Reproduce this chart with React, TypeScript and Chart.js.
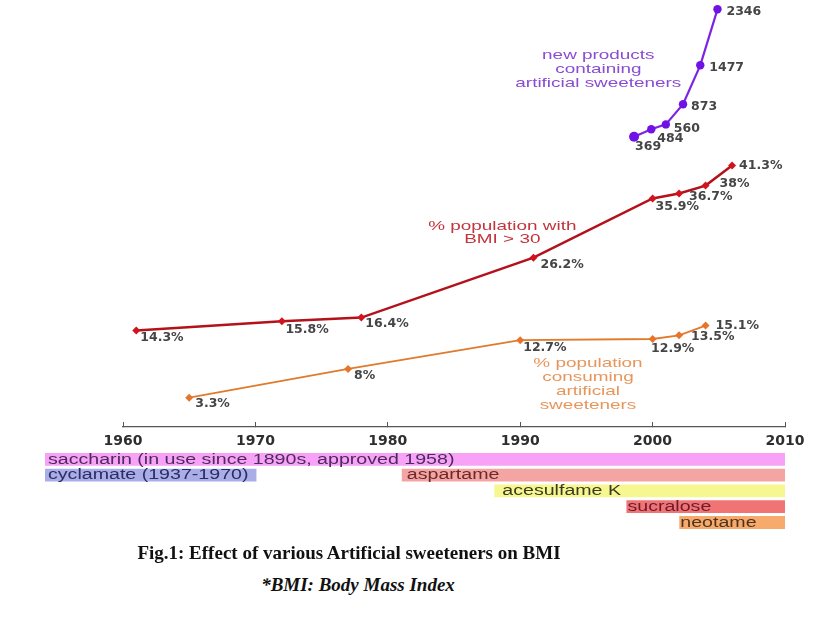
import React, { useEffect, useRef } from "react";
import { Chart, registerables } from "chart.js";

Chart.register(...registerables);

// ---------- data ----------
const xTicks = [1960, 1970, 1980, 1990, 2000, 2010];

const bmiYears = [1961, 1972, 1978, 1991, 2000, 2002, 2004, 2006];
const bmiValues = [14.3, 15.8, 16.4, 26.2, 35.9, 36.7, 38, 41.3];

const consumeYears = [1965, 1977, 1990, 2000, 2002, 2004];
const consumeValues = [3.3, 8, 12.7, 12.9, 13.5, 15.1];

const productYears = [1998.6, 1999.9, 2001, 2002.3, 2003.6, 2004.9];
const productValues = [369, 484, 560, 873, 1477, 2346];

const sweetenerNames = [
  "saccharin (in use since 1890s, approved 1958)",
  "cyclamate (1937-1970)",
  "aspartame",
  "acesulfame K",
  "sucralose",
  "neotame",
];
const sweetenerStart = [1890, 1937, 1981, 1988, 1998, 2002];
const sweetenerEnd = [2010, 1970, 2010, 2010, 2010, 2010];
const sweetenerRow = [0, 1, 1, 2, 3, 4];
const rowLabels = ["saccharin", "cyclamate / aspartame", "acesulfame K", "sucralose", "neotame"];

const bmiTitle = ["% population with", "BMI > 30"];
const consumeTitle = ["% population", "consuming", "artificial", "sweeteners"];
const productTitle = ["new products", "containing", "artificial sweeteners"];

// ---------- styling / placement ----------
const SX = 1.4; // horizontal stretch of the sans text in the reference
const bmiLabelOffsets = [[4, 7], [3.5, 8.5], [4, 6], [7, 7], [3, 8], [10, 3.5], [14, -1.4], [7, 0]];
const consumeLabelOffsets = [[6, 6], [6, 6.4], [3, 7.7], [-1.6, 9.3], [12, 1.7], [10, 0]];
const productLabelOffsets = [[1, 10], [6, 9], [8, 4], [8, 3], [9, 2], [9, 2]];

const annotations = [
  { lines: productTitle, x: 1995.9, y: 1420, axis: "y2", color: "#8a4cd2", spacing: 13.8 },
  { lines: bmiTitle, x: 1988.65, y: 30.25, axis: "y", color: "#c3343d", spacing: 12.8 },
  { lines: consumeTitle, x: 1995.12, y: 5.42, axis: "y", color: "#e8955a", spacing: 14 },
];

const barColors = ["#f7a2f6", "#a9aee9", "#f4a4a3", "#f7f792", "#f07474", "#f6aa6c"];
const barTextColors = ["#4e2a5e", "#2c2c60", "#6a2a2a", "#3a3a22", "#6a1a30", "#4e3320"];
const barTextInset = [3, 3, 5, 8, 1, 1];

const pointLabelPlugin = {
  id: "pointLabels",
  afterDatasetsDraw(chart: any) {
    const ctx = chart.ctx;
    ctx.save();
    ctx.font = 'bold 12.5px "DejaVu Sans"';
    ctx.textAlign = "left";
    ctx.textBaseline = "middle";
    ctx.fillStyle = "#454545";
    chart.data.datasets.forEach((ds: any, i: number) => {
      const meta = chart.getDatasetMeta(i);
      meta.data.forEach((el: any, j: number) => {
        const [dx, dy] = ds.labelOffsets[j];
        const v = ds.data[j].y;
        ctx.fillText(`${v}${ds.unit}`, el.x + dx, el.y + dy);
      });
    });
    ctx.font = '13.5px "Liberation Sans"';
    ctx.textAlign = "center";
    annotations.forEach((a) => {
      const cx = chart.scales.x.getPixelForValue(a.x);
      const cy = chart.scales[a.axis].getPixelForValue(a.y);
      ctx.fillStyle = a.color;
      const n = a.lines.length;
      a.lines.forEach((line, k) => {
        const y = cy + (k - (n - 1) / 2) * a.spacing;
        ctx.save();
        ctx.translate(cx, y);
        ctx.scale(SX, 1);
        ctx.fillText(line, 0, 0);
        ctx.restore();
      });
    });
    ctx.restore();
  },
};

const barLabelPlugin = {
  id: "barLabels",
  afterDatasetsDraw(chart: any) {
    const ctx = chart.ctx;
    const area = chart.chartArea;
    ctx.save();
    ctx.font = '14px "Liberation Sans"';
    ctx.textAlign = "left";
    ctx.textBaseline = "middle";
    chart.data.datasets.forEach((ds: any, i: number) => {
      const el = chart.getDatasetMeta(i).data[0];
      if (!el) return;
      const left = Math.max(Math.min(el.x, el.base), area.left);
      ctx.fillStyle = barTextColors[i];
      ctx.save();
      ctx.translate(left + barTextInset[i], el.y + 0.5);
      ctx.scale(SX, 1);
      ctx.fillText(ds.label, 0, 0);
      ctx.restore();
    });
    ctx.restore();
  },
};

export default function App() {
  const lineRef = useRef<HTMLCanvasElement | null>(null);
  const barRef = useRef<HTMLCanvasElement | null>(null);

  useEffect(() => {
    const lineChart = new Chart(lineRef.current as HTMLCanvasElement, {
      type: "line",
      data: {
        datasets: [
          {
            label: "% population with BMI > 30",
            data: bmiYears.map((x, i) => ({ x, y: bmiValues[i] })),
            yAxisID: "y",
            borderColor: "#b3111b",
            backgroundColor: "#d2121c",
            borderWidth: 2.5,
            pointStyle: "rectRot",
            pointRadius: 4,
            pointBackgroundColor: "#d2121c",
            pointBorderWidth: 0,
            clip: false,
            unit: "%",
            labelOffsets: bmiLabelOffsets,
          } as any,
          {
            label: "% population consuming artificial sweeteners",
            data: consumeYears.map((x, i) => ({ x, y: consumeValues[i] })),
            yAxisID: "y",
            borderColor: "#e07a2c",
            backgroundColor: "#e8742a",
            borderWidth: 1.8,
            pointStyle: "rectRot",
            pointRadius: 4,
            pointBackgroundColor: "#e8742a",
            pointBorderWidth: 0,
            clip: false,
            unit: "%",
            labelOffsets: consumeLabelOffsets,
          } as any,
          {
            label: "new products containing artificial sweeteners",
            data: productYears.map((x, i) => ({ x, y: productValues[i] })),
            yAxisID: "y2",
            borderColor: "#7c24e2",
            backgroundColor: "#7012e6",
            borderWidth: 2.2,
            pointStyle: "circle",
            pointRadius: [5, 4.2, 4.2, 4.2, 4.2, 4.2],
            pointBackgroundColor: "#7012e6",
            pointBorderWidth: 0,
            clip: false,
            unit: "",
            labelOffsets: productLabelOffsets,
          } as any,
        ],
      },
      options: {
        responsive: false,
        animation: false,
        devicePixelRatio: 1,
        layout: { padding: { left: 123, right: 47, top: 5, bottom: 0 } },
        plugins: { legend: { display: false }, tooltip: { enabled: false } },
        scales: {
          x: {
            type: "linear",
            position: "bottom",
            min: 1960,
            max: 2010,
            afterBuildTicks: (s: any) => {
              s.ticks = xTicks.map((v) => ({ value: v }));
            },
            afterFit: (s: any) => {
              s.height = 28;
            },
            grid: { drawOnChartArea: false, drawTicks: true, tickLength: -5, color: "#555", lineWidth: 1 },
            border: { display: true, color: "#555", width: 1.2 },
            ticks: {
              padding: 10.6,
              color: "#2e2e2e",
              font: { family: "DejaVu Sans", size: 14, weight: "bold" },
              callback: (v: any) => String(v),
              maxRotation: 0,
              autoSkip: false,
            },
          },
          y: { type: "linear", display: false, min: -1.506, max: 67.56 },
          y2: { type: "linear", display: false, position: "right", min: -4135.6, max: 2413.1 },
        },
      } as any,
      plugins: [pointLabelPlugin],
    });

    const barChart = new Chart(barRef.current as HTMLCanvasElement, {
      type: "bar",
      data: {
        labels: rowLabels,
        datasets: sweetenerNames.map((name, k) => ({
          label: name,
          data: [{ x: [sweetenerStart[k], sweetenerEnd[k]], y: rowLabels[sweetenerRow[k]] }],
          backgroundColor: barColors[k],
          borderWidth: 0,
          grouped: false,
          categoryPercentage: 1,
          barPercentage: 0.81,
          clip: 0,
        })) as any,
      },
      options: {
        indexAxis: "y",
        responsive: false,
        animation: false,
        devicePixelRatio: 1,
        layout: { padding: { left: 45, right: 47, top: 11.4, bottom: 9.6 } },
        plugins: { legend: { display: false }, tooltip: { enabled: false } },
        scales: {
          x: { type: "linear", min: 1954, max: 2010, display: false },
          y: { type: "category", display: false, offset: true },
        },
      } as any,
      plugins: [barLabelPlugin],
    });

    return () => {
      lineChart.destroy();
      barChart.destroy();
    };
  }, []);

  return (
    <div style={{ position: "absolute", left: 0, top: 0, width: 832, height: 618, background: "#fff", overflow: "hidden" }}>
      <canvas ref={lineRef} width={832} height={455} style={{ position: "absolute", left: 0, top: 0 }} />
      <canvas ref={barRef} width={832} height={100} style={{ position: "absolute", left: 0, top: 440 }} />
      <div
        style={{
          position: "absolute",
          left: 49,
          top: 542,
          width: 600,
          textAlign: "center",
          font: 'bold 19px "Liberation Serif"',
          lineHeight: "22px",
          color: "#111",
          whiteSpace: "nowrap",
        }}
      >
        Fig.1: Effect of various Artificial sweeteners on BMI
      </div>
      <div
        style={{
          position: "absolute",
          left: 58,
          top: 574,
          width: 600,
          textAlign: "center",
          font: 'italic bold 19px "Liberation Serif"',
          lineHeight: "22px",
          color: "#111",
          whiteSpace: "nowrap",
        }}
      >
        *BMI: Body Mass Index
      </div>
    </div>
  );
}
